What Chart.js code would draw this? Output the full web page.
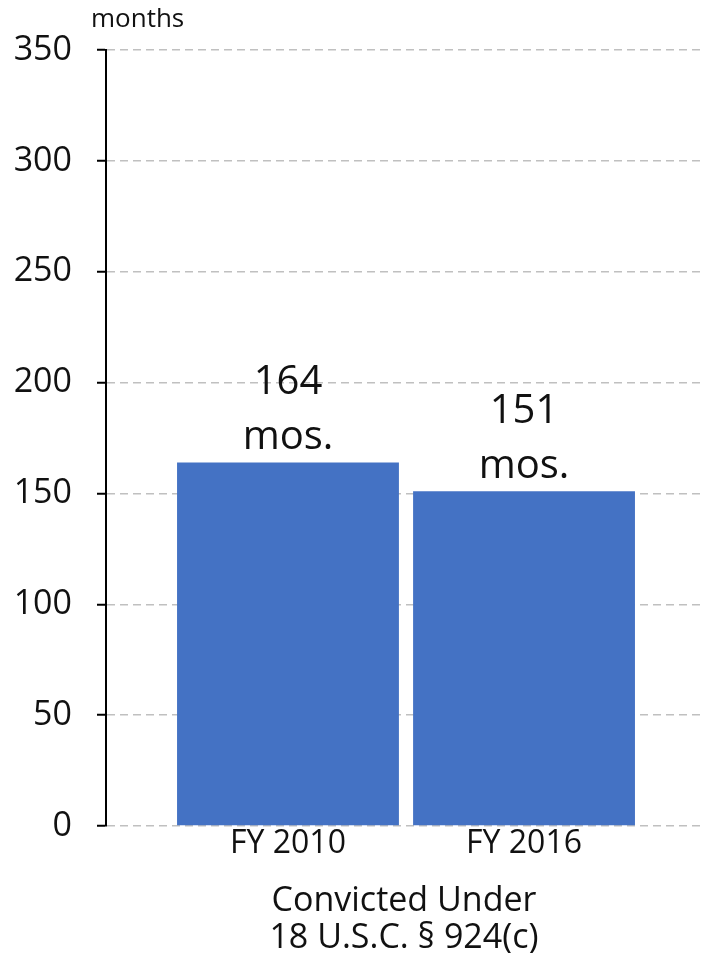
<!DOCTYPE html>
<html>
<head>
<meta charset="utf-8">
<script src="https://cdn.jsdelivr.net/npm/chart.js@4"></script>
<style>
  html, body { margin: 0; padding: 0; background: #fff; }
  #wrap { position: relative; width: 702px; height: 953px; }
</style>
</head>
<body>
<div id="wrap"><canvas id="chart"></canvas></div>
<script>
// chart data
const categories = ['FY 2010', 'FY 2016'];
const sentenceMonths = [164, 151];
const yTicks = [0, 50, 100, 150, 200, 250, 300, 350];
const valueUnit = 'mos.';
const yUnit = 'months';
const xTitle = ['Convicted Under', '18 U.S.C. § 924(c)'];

const FONT = "'Open Sans', sans-serif";
const TEXT = '#111111';

// two-line value labels above each bar, plus the unit label top-left
const labelsPlugin = {
  id: 'barLabels',
  afterDatasetsDraw(chart) {
    const ctx = chart.ctx;
    ctx.save();
    ctx.fillStyle = TEXT;
    ctx.textAlign = 'center';
    ctx.textBaseline = 'middle';
    ctx.font = `40px ${FONT}`;
    chart.getDatasetMeta(0).data.forEach((bar, i) => {
      ctx.fillText(String(sentenceMonths[i]), bar.x, bar.y - 80);
      ctx.fillText(valueUnit, bar.x, bar.y - 25);
    });
    ctx.font = `26px ${FONT}`;
    ctx.textAlign = 'left';
    ctx.fillText(yUnit, 91, 20);
    ctx.restore();
  }
};

const ctx = document.getElementById('chart').getContext('2d');

new Chart(ctx, {
  type: 'bar',
  data: {
    datasets: [{
      data: sentenceMonths.map((v, i) => ({ x: i, y: v })),
      backgroundColor: '#4472C4',
      borderWidth: 0,
      barPercentage: 0.94,
      categoryPercentage: 1
    }]
  },
  options: {
    responsive: true,
    maintainAspectRatio: false,
    animation: false,
    layout: { padding: { top: 50, left: 0, right: 0, bottom: 0 } },
    plugins: {
      legend: { display: false },
      tooltip: { enabled: false }
    },
    scales: {
      x: {
        type: 'linear',
        offset: false,
        min: -0.771,
        max: 1.754,
        afterBuildTicks: (s) => { s.ticks = categories.map((c, i) => ({ value: i })); },
        afterFit: (s) => { s.height = 127; },
        ticks: {
          autoSkip: false,
          maxRotation: 0,
          padding: 0,
          color: TEXT,
          font: { family: FONT, size: 32, lineHeight: 1.1 },
          callback: (v) => categories[v] ?? ''
        },
        grid: { display: false, drawTicks: false },
        border: { display: false },
        title: {
          display: true,
          text: xTitle,
          color: TEXT,
          font: { family: FONT, size: 34, lineHeight: '37px' },
          padding: { top: 0, bottom: -4 }
        }
      },
      y: {
        min: 0,
        max: 350,
        afterBuildTicks: (s) => { s.ticks = yTicks.map(v => ({ value: v })); },
        afterFit: (s) => { s.width = 106; },
        ticks: {
          padding: 25,
          color: TEXT,
          font: { family: FONT, size: 34 }
        },
        grid: {
          color: '#c0c0c0',
          lineWidth: 1.5,
          tickColor: '#000',
          tickLength: 9,
          tickWidth: 2,
          tickBorderDash: []
        },
        border: { display: true, color: '#000', width: 2, dash: [8, 5] }
      }
    }
  },
  plugins: [labelsPlugin]
});
</script>
</body>
</html>
